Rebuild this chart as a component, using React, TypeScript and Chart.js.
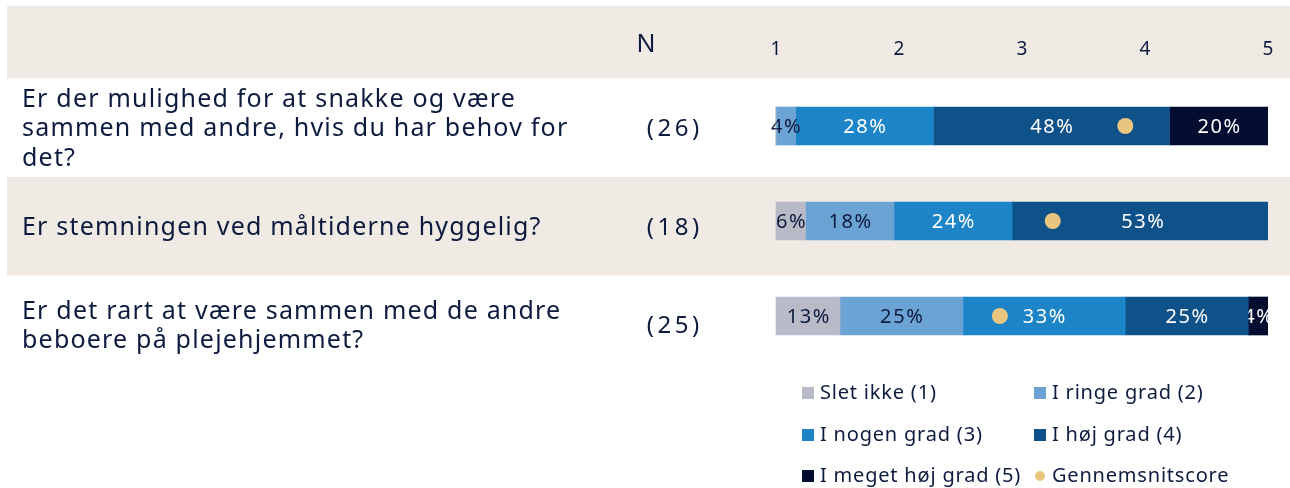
import React, { useEffect, useRef } from "react";
import { Chart, registerables } from "chart.js";

Chart.register(...registerables);

// ---------- DATA ----------
const categories = ["Q1", "Q2", "Q3"];
const questionLines = [
  ["Er der mulighed for at snakke og være", "sammen med andre, hvis du har behov for", "det?"],
  ["Er stemningen ved måltiderne hyggelig?"],
  ["Er det rart at være sammen med de andre", "beboere på plejehjemmet?"],
];
const nLabels = ["(26)", "(18)", "(25)"];
const nHeader = "N";
const seriesNames = [
  "Slet ikke (1)",
  "I ringe grad (2)",
  "I nogen grad (3)",
  "I høj grad (4)",
  "I meget høj grad (5)",
];
const sletIkke = [0, 6, 13];
const iRingeGrad = [4, 18, 25];
const iNogenGrad = [28, 24, 33];
const iHoejGrad = [48, 53, 25];
const iMegetHoejGrad = [20, 0, 4];
const averageScores = [3.84, 3.25, 2.82];
const averageName = "Gennemsnitscore";
const scoreTicks = [1, 2, 3, 4, 5];

// ---------- STYLE ----------
const seriesColors = ["#B8BBC7", "#6BA3D4", "#1C84C7", "#0F5189", "#020D30"];
const labelColors = ["#0D1B3E", "#0D1B3E", "#FFFFFF", "#FFFFFF", "#FFFFFF"];
const GOLD = "#E8C680";
const BEIGE = "#EFEAE3";
const TEXT = "#0D1B3E";
const FONT = '"Noto Sans", sans-serif';
const BAND_H = 98.5;

const seriesValues = [sletIkke, iRingeGrad, iNogenGrad, iHoejGrad, iMegetHoejGrad];

function setFont(ctx: any, size: number, spacing: number) {
  ctx.font = `${size}px ${FONT}`;
  ctx.letterSpacing = `${spacing}px`;
}

function centerText(ctx: any, text: string, x: number, y: number, spacing: number) {
  const w = ctx.measureText(text).width - spacing;
  ctx.textAlign = "left";
  ctx.fillText(text, x - w / 2, y);
}

const decorPlugin = {
  id: "decor",
  beforeDraw(chart: any) {
    const { ctx, chartArea } = chart;
    ctx.save();
    ctx.fillStyle = "#FFFFFF";
    ctx.fillRect(0, 0, chart.width, chart.height);
    ctx.fillStyle = BEIGE;
    ctx.fillRect(7, 6, chart.width - 7, chartArea.top - 6);
    ctx.fillRect(7, chartArea.top + BAND_H, chart.width - 7, BAND_H);
    ctx.restore();
  },
  afterDatasetDraw(chart: any, args: any) {
    const ds = chart.data.datasets[args.index];
    if (ds.type === "scatter") return;
    const si = ds.seriesIndex;
    const { ctx, chartArea } = chart;
    const meta = args.meta;
    ctx.save();
    ctx.beginPath();
    ctx.rect(0, 0, chartArea.right, chart.height);
    ctx.clip();
    setFont(ctx, 20, 1.6);
    ctx.textBaseline = "middle";
    ctx.fillStyle = labelColors[si];
    meta.data.forEach((bar: any, i: number) => {
      const v = ds.data[i];
      if (!v) return;
      const cx = (bar.x + bar.base) / 2;
      centerText(ctx, `${v}%`, cx, bar.y + 1, 1.6);
    });
    ctx.restore();
  },
  afterDraw(chart: any) {
    const { ctx, chartArea } = chart;
    const score = chart.scales.score;
    ctx.save();
    ctx.fillStyle = TEXT;
    ctx.textBaseline = "middle";

    // header
    setFont(ctx, 25, 0);
    centerText(ctx, nHeader, 646, 45, 0);
    setFont(ctx, 19, 0);
    scoreTicks.forEach((t) => {
      centerText(ctx, String(t), score.getPixelForValue(t), 50, 0);
    });

    // rows
    categories.forEach((_, i) => {
      const top = chartArea.top + i * BAND_H;
      const mid = top + BAND_H / 2 + 1.5;
      const lines = questionLines[i];
      const lh = 29.5;
      setFont(ctx, 25, 1.2);
      ctx.textAlign = "left";
      lines.forEach((ln, k) => {
        ctx.fillText(ln, 22, mid + (k - (lines.length - 1) / 2) * lh);
      });
      setFont(ctx, 24, 3.5);
      centerText(ctx, nLabels[i], 673, mid, 3.5);
    });

    // legend
    setFont(ctx, 20, 0.8);
    ctx.textAlign = "left";
    const colX = [802, 1034];
    const rowY = [393, 435, 476];
    seriesNames.forEach((name, i) => {
      const x = colX[i % 2];
      const y = rowY[Math.floor(i / 2)];
      ctx.fillStyle = seriesColors[i];
      ctx.fillRect(x, y - 6, 12, 12);
      ctx.fillStyle = TEXT;
      ctx.fillText(name, x + 18, y);
    });
    ctx.fillStyle = GOLD;
    ctx.beginPath();
    ctx.arc(1040, rowY[2], 5, 0, Math.PI * 2);
    ctx.fill();
    ctx.fillStyle = TEXT;
    ctx.fillText(averageName, 1052, rowY[2]);
    ctx.restore();
  },
};

export default function App() {
  const ref = useRef<HTMLCanvasElement | null>(null);
  useEffect(() => {
    document.body.style.margin = "0";
    const canvas = ref.current!;
    const datasets: any[] = [
      {
        type: "scatter",
        label: averageName,
        data: averageScores.map((v, i) => ({ x: v, y: categories[i] })),
        xAxisID: "score",
        yAxisID: "y",
        backgroundColor: GOLD,
        borderWidth: 0,
        pointRadius: 8,
        order: 0,
      },
      ...seriesValues.map((vals, si) => ({
        type: "bar",
        label: seriesNames[si],
        seriesIndex: si,
        data: vals,
        xAxisID: "x",
        yAxisID: "y",
        backgroundColor: seriesColors[si],
        borderWidth: 0,
        barThickness: 38,
        order: 1,
        clip: { left: false, top: false, right: 0, bottom: false },
      })),
    ];
    const chart = new Chart(canvas, {
      type: "bar",
      data: { labels: categories, datasets },
      options: {
        indexAxis: "y",
        responsive: false,
        animation: false,
        devicePixelRatio: 1,
        layout: { padding: { left: 776, right: 22, top: 78.5, bottom: 124.5 } },
        scales: {
          x: { type: "linear", stacked: true, min: 0, max: 100, display: false },
          score: { type: "linear", axis: "x", position: "bottom", min: 1, max: 5, display: false },
          y: { type: "category", stacked: true, display: false, offset: true },
        },
        plugins: { legend: { display: false }, tooltip: { enabled: false } },
      } as any,
      plugins: [decorPlugin],
    } as any);
    return () => chart.destroy();
  }, []);
  return (
    <div style={{ width: 1290, height: 488 }}>
      <canvas ref={ref} width={1290} height={488} style={{ display: "block" }} />
    </div>
  );
}
